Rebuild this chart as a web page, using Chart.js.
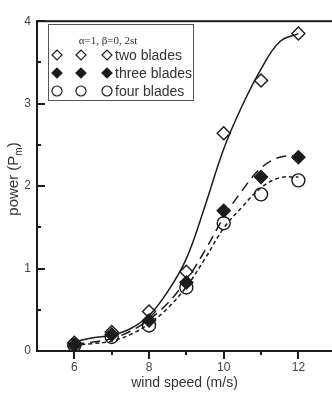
<!DOCTYPE html>
<html>
<head>
<meta charset="utf-8">
<script src="https://cdn.jsdelivr.net/npm/chart.js@4/dist/chart.umd.min.js"></script>
<style>
  html, body { margin: 0; padding: 0; background: #fff; overflow: hidden; }
  #wrap { position: relative; width: 332px; height: 395px; }
  canvas { display: block; }
</style>
</head>
<body>
<div id="wrap"><canvas id="powerChart" width="332" height="395"></canvas></div>
<script>
// measured points
const windSpeed = [6, 7, 8, 9, 10, 11, 12];
const twoBlades = [0.10, 0.23, 0.48, 0.96, 2.64, 3.28, 3.85];
const threeBlades = [0.07, 0.20, 0.37, 0.83, 1.70, 2.11, 2.35];
const fourBlades = [0.07, 0.17, 0.31, 0.77, 1.55, 1.90, 2.07];

// fitted curves, every 0.5 m/s
const fitSpeed = [6, 6.5, 7, 7.5, 8, 8.5, 9, 9.5, 10, 10.5, 11, 11.5, 12];
const fitTwo = [0.11, 0.16, 0.19, 0.27, 0.43, 0.72, 1.12, 1.76, 2.45, 2.98, 3.42, 3.75, 3.85];
const fitThree = [0.08, 0.11, 0.15, 0.24, 0.38, 0.58, 0.86, 1.22, 1.62, 1.95, 2.22, 2.35, 2.37];
const fitFour = [0.07, 0.09, 0.12, 0.20, 0.33, 0.52, 0.78, 1.12, 1.49, 1.75, 1.98, 2.10, 2.11];

const xTicks = [6, 8, 10, 12];
const xMinorTicks = [7, 9, 11];
const yTicks = [0, 1, 2, 3, 4];
const yMinorTicks = [0.5, 1.5, 2.5, 3.5];

const legendTitle = "\u03b1=1, \u03b2=0, 2st";
const legendLabels = ["two blades", "three blades", "four blades"];

const INK = "#1c1c1c";
const SANS = "'Liberation Sans', Arial, sans-serif";

const toPoints = (xs, ys) => xs.map((x, i) => ({ x: x, y: ys[i] }));

function markerSet(label, ys, style, filled) {
  return {
    label: label,
    data: toPoints(windSpeed, ys),
    showLine: false,
    pointStyle: style,
    pointRadius: 6.5,
    pointBorderWidth: 1.4,
    pointBorderColor: INK,
    pointBackgroundColor: filled ? INK : "rgba(255,255,255,0)",
  };
}

function fitSet(ys, dash) {
  return {
    data: toPoints(fitSpeed, ys),
    showLine: true,
    pointRadius: 0,
    borderColor: INK,
    borderWidth: 1.5,
    borderDash: dash,
    tension: 0.4,
    fill: false,
  };
}

// frame, minor ticks, y title and the boxed legend
const framePlugin = {
  id: "frame",
  afterDraw(chart) {
    const { ctx, chartArea: a } = chart;
    const xScale = chart.scales.x;
    const yScale = chart.scales.y;
    ctx.save();
    ctx.setLineDash([]);
    ctx.fillStyle = INK;
    ctx.fillRect(a.left - 1, a.top - 1, chart.width - a.left + 1, 2);
    ctx.fillRect(a.left - 1, a.top - 1, 2, a.bottom - a.top + 2);
    ctx.fillRect(a.left - 1, a.bottom - 1, chart.width - a.left + 1, 2);

    for (const v of xMinorTicks) {
      const px = Math.round(xScale.getPixelForValue(v));
      ctx.fillRect(px - 1, a.bottom, 2, 4);
    }
    for (const v of yMinorTicks) {
      const py = Math.round(yScale.getPixelForValue(v));
      ctx.fillRect(a.left, py - 1, 4, 2);
    }

    // y title with subscript
    ctx.fillStyle = "#333";
    ctx.translate(14, 179);
    ctx.rotate(-Math.PI / 2);
    ctx.textBaseline = "middle";
    const main = "power (P";
    ctx.font = "15px " + SANS;
    const w1 = ctx.measureText(main).width;
    ctx.font = "10px " + SANS;
    const w2 = ctx.measureText("m").width;
    ctx.font = "15px " + SANS;
    const w3 = ctx.measureText(")").width;
    let sx = -(w1 + w2 + w3) / 2;
    ctx.textAlign = "left";
    ctx.fillText(main, sx, 0);
    sx += w1;
    ctx.font = "10px " + SANS;
    ctx.fillText("m", sx, 5);
    sx += w2;
    ctx.font = "15px " + SANS;
    ctx.fillText(")", sx, 0);
    ctx.restore();

    // legend box
    ctx.save();
    ctx.setLineDash([]);
    ctx.strokeStyle = "#555";
    ctx.lineWidth = 1;
    ctx.strokeRect(48.5, 24.5, 145, 76);
    ctx.fillStyle = "#333";
    ctx.font = "11px 'Liberation Serif', 'Times New Roman', serif";
    ctx.textAlign = "center";
    ctx.textBaseline = "middle";
    ctx.fillText(legendTitle, 108, 41);

    const rowY = [55, 73, 91];
    const symX = [57, 81, 107];
    const styles = [
      { pointStyle: "rectRot", radius: 5, fill: "#fff" },
      { pointStyle: "rectRot", radius: 5, fill: INK },
      { pointStyle: "circle", radius: 5, fill: "#fff" },
    ];
    ctx.font = "14px " + SANS;
    ctx.textAlign = "left";
    legendLabels.forEach((label, i) => {
      symX.forEach((sxp) => {
        ctx.fillStyle = styles[i].fill;
        ctx.strokeStyle = INK;
        ctx.lineWidth = 1.2;
        Chart.helpers.drawPoint(ctx, {
          pointStyle: styles[i].pointStyle,
          radius: styles[i].radius,
          rotation: 0,
          borderWidth: 1.2,
        }, sxp, rowY[i]);
      });
      ctx.fillStyle = "#333";
      ctx.fillText(label, 115, rowY[i] + 1);
    });
    ctx.restore();
  },
};

new Chart(document.getElementById("powerChart"), {
  type: "scatter",
  data: {
    datasets: [
      markerSet(legendLabels[0], twoBlades, "rectRot", false),
      markerSet(legendLabels[1], threeBlades, "rectRot", true),
      markerSet(legendLabels[2], fourBlades, "circle", false),
      fitSet(fitTwo, []),
      fitSet(fitThree, [10, 6]),
      fitSet(fitFour, [4, 3]),
    ],
  },
  options: {
    responsive: false,
    animation: false,
    devicePixelRatio: 1,
    layout: { autoPadding: false, padding: { top: 12, right: 0, left: 0, bottom: 0 } },
    scales: {
      x: {
        type: "linear",
        min: 5,
        max: 12.9,
        afterBuildTicks: (scale) => { scale.ticks = xTicks.map((v) => ({ value: v })); },
        afterFit: (scale) => { scale.height = 44; },
        // major ticks only, pointing down out of the plot
        grid: {
          display: true,
          drawOnChartArea: false,
          drawTicks: true,
          tickLength: 8,
          color: INK,
          lineWidth: 2,
        },
        border: { display: false },
        ticks: {
          padding: 1,
          color: "#444",
          font: { family: SANS, size: 12 },
        },
        title: {
          display: true,
          text: "wind speed (m/s)",
          color: "#333",
          font: { family: SANS, size: 14 },
          padding: { top: 0, bottom: 3 },
        },
      },
      y: {
        type: "linear",
        min: 0,
        max: 4,
        afterBuildTicks: (scale) => { scale.ticks = yTicks.map((v) => ({ value: v })); },
        afterFit: (scale) => { scale.width = 37; },
        // negative length turns the major ticks inward
        grid: {
          display: true,
          drawOnChartArea: false,
          drawTicks: true,
          tickLength: -8,
          color: INK,
          lineWidth: 2,
        },
        border: { display: false },
        ticks: {
          padding: 14,
          color: "#444",
          font: { family: SANS, size: 12 },
        },
      },
    },
    plugins: {
      legend: { display: false },
      tooltip: { enabled: false },
    },
  },
  plugins: [framePlugin],
});
</script>
</body>
</html>
